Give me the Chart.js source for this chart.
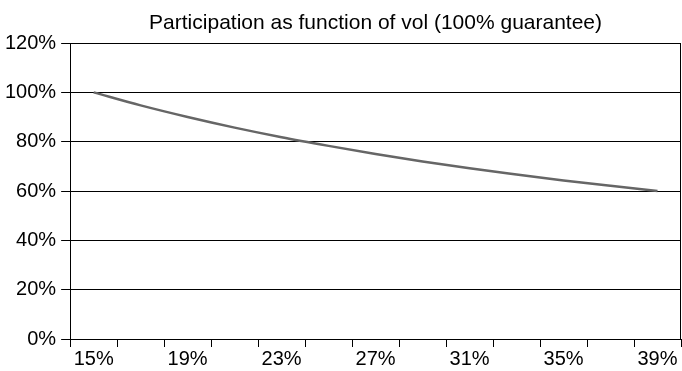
<!DOCTYPE html>
<html>
<head>
<meta charset="utf-8">
<script src="https://cdn.jsdelivr.net/npm/chart.js@4/dist/chart.umd.min.js"></script>
<style>
body{margin:0;background:#fff;}
#wrap{width:682px;height:371px;}
</style>
</head>
<body>
<div id="wrap"><canvas id="grafico"></canvas></div>
<script>
// vol levels (every 2%), only every other one gets a label
const vols = ['15%','17%','19%','21%','23%','25%','27%','29%','31%','33%','35%','37%','39%'];
const participation = [100, 94.7, 90, 85.7, 81.8, 78.3, 75, 72, 69.2, 66.7, 64.3, 62.1, 60];
const yTicks = [0, 20, 40, 60, 80, 100, 120];
const titulo = 'Participation as function of vol (100% guarantee)';

Chart.defaults.font.family = '"Liberation Sans", Arial, sans-serif';
Chart.defaults.color = '#000';

// right edge of the frame + title centred over the plot area
const moldura = {
    id:'moldura',
    afterDraw(chart){
        const a = chart.chartArea, ctx = chart.ctx;
        ctx.save();
        ctx.strokeStyle = '#000';
        ctx.lineWidth = 1;
        ctx.beginPath();
        ctx.moveTo(Math.round(a.right)-0.5, a.top);
        ctx.lineTo(Math.round(a.right)-0.5, a.bottom);
        ctx.stroke();
        ctx.fillStyle = '#000';
        ctx.font = '21px "Liberation Sans", Arial, sans-serif';
        ctx.textAlign = 'center';
        ctx.textBaseline = 'middle';
        ctx.fillText(titulo, (a.left+a.right)/2, a.top-20);
        ctx.restore();
    }
};

new Chart(document.getElementById('grafico'), {
    type:'line',
    data:{
        labels:vols,
        datasets:[{
            data:participation,
            borderColor:'#666',
            borderWidth:2.5,
            pointRadius:0,
            cubicInterpolationMode:'monotone',
            fill:false
        }]
    },
    options:{
        responsive:true,
        maintainAspectRatio:false,
        animation:false,
        layout:{padding:{left:0, right:1, top:43, bottom:0}},
        plugins:{
            legend:{display:false},
            tooltip:{enabled:false},
            title:{display:false}
        },
        scales:{
            x:{
                offset:true,
                grid:{offset:true, drawOnChartArea:false, color:'#000', tickLength:8},
                border:{color:'#000'},
                ticks:{
                    autoSkip:false, maxRotation:0, padding:0,
                    font:{size:20},
                    callback:(v,i)=> i%2===0 ? vols[i] : ''
                }
            },
            y:{
                min:yTicks[0], max:yTicks[yTicks.length-1],
                afterBuildTicks:s=>{ s.ticks = yTicks.map(v=>({value:v})); },
                grid:{color:'#000', tickLength:9},
                border:{color:'#000'},
                ticks:{padding:5, font:{size:20}, callback:v=>v+'%'}
            }
        }
    },
    plugins:[moldura]
});
</script>
</body>
</html>
